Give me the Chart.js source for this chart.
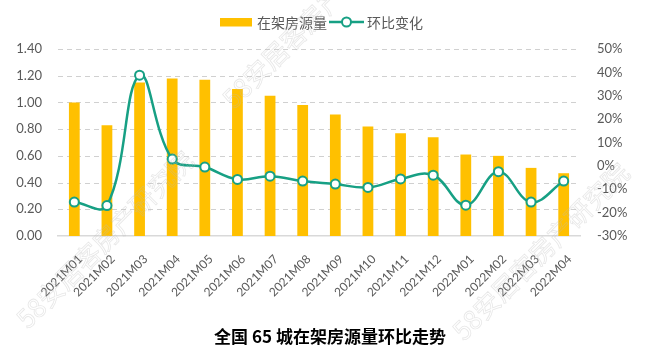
<!DOCTYPE html>
<html>
<head>
<meta charset="utf-8">
<script src="https://cdn.jsdelivr.net/npm/chart.js@4.4.1/dist/chart.umd.min.js"></script>
<style>
  html, body { margin: 0; padding: 0; background: #ffffff; }
  #wrap { width: 660px; height: 361px; position: relative; }
</style>
</head>
<body>
<div id="wrap"><canvas id="c" width="660" height="361"></canvas></div>
<script>
const categories = ['2021M01','2021M02','2021M03','2021M04','2021M05','2021M06','2021M07','2021M08','2021M09','2021M10','2021M11','2021M12','2022M01','2022M02','2022M03','2022M04'];
const listingVolume = [1.00, 0.83, 1.15, 1.18, 1.17, 1.10, 1.05, 0.98, 0.91, 0.82, 0.77, 0.74, 0.61, 0.60, 0.51, 0.47];
const momChange = [-15.5, -17.0, 38.8, 2.9, -0.5, -5.8, -4.4, -6.5, -7.8, -9.2, -5.6, -4.0, -16.8, -2.5, -15.5, -6.5];
const leftTicks = [0, 0.2, 0.4, 0.6, 0.8, 1.0, 1.2, 1.4];
const rightTicks = [-30, -20, -10, 0, 10, 20, 30, 40, 50];
const barLabel = '在架房源量';
const lineLabel = '环比变化';
const titleText = '全国 65 城在架房源量环比走势';
const watermark = '58安居客房产研究院';

const BAR = '#FFC000';
const TEAL = '#17A084';
const GRAY = '#595959';

const dashedGridPlugin = {
  id: 'dashedGrid',
  beforeDatasetsDraw(chart) {
    const ctx = chart.ctx;
    const ys = chart.scales.y;
    const area = chart.chartArea;
    ctx.save();
    ctx.strokeStyle = '#d0d0d0';
    ctx.lineWidth = 1;
    ctx.setLineDash([5, 4]);
    for (const v of leftTicks) {
      if (v === 0) continue;
      const py = Math.round(ys.getPixelForValue(v)) + 0.5;
      ctx.beginPath();
      ctx.moveTo(area.left, py);
      ctx.lineTo(area.right, py);
      ctx.stroke();
    }
    ctx.restore();
  }
};

const legendPlugin = {
  id: 'customLegend',
  afterDraw(chart) {
    const ctx = chart.ctx;
    ctx.save();
    ctx.font = '14px "Noto Sans CJK SC"';
    const w1 = ctx.measureText(barLabel).width;
    let x = 220;
    const y = 22;
    ctx.fillStyle = BAR;
    ctx.fillRect(x, y - 4, 32, 8.5);
    x += 37;
    ctx.fillStyle = GRAY;
    ctx.textBaseline = 'middle';
    ctx.fillText(barLabel, x, y + 1);
    x += w1 + 2;
    ctx.strokeStyle = TEAL;
    ctx.lineWidth = 2.5;
    ctx.beginPath();
    ctx.moveTo(x, y); ctx.lineTo(x + 35, y); ctx.stroke();
    ctx.beginPath();
    ctx.arc(x + 17.5, y, 4.5, 0, Math.PI * 2);
    ctx.fillStyle = '#fff'; ctx.fill();
    ctx.lineWidth = 2; ctx.stroke();
    x += 38;
    ctx.fillStyle = GRAY;
    ctx.fillText(lineLabel, x, y + 1);
    ctx.restore();
  }
};

const watermarkPlugin = {
  id: 'watermark',
  afterDraw(chart) {
    const ctx = chart.ctx;
    ctx.save();
    ctx.font = '26px "Noto Sans CJK SC"';
    ctx.strokeStyle = 'rgba(185,185,185,0.35)';
    ctx.lineWidth = 0.8;
    ctx.textBaseline = 'alphabetic';
    const spots = [[28, 330], [234, 110], [464, 342]];
    for (const [sx, sy] of spots) {
      ctx.save();
      ctx.translate(sx, sy);
      ctx.rotate(-Math.PI / 4);
      ctx.strokeText(watermark, 0, 0);
      ctx.restore();
    }
    ctx.restore();
  }
};

new Chart(document.getElementById('c'), {
  data: {
    labels: categories,
    datasets: [
      {
        type: 'line',
        label: lineLabel,
        data: momChange,
        yAxisID: 'y1',
        borderColor: TEAL,
        borderWidth: 2.5,
        tension: 0.4,
        pointRadius: 4.5,
        pointBorderWidth: 2,
        pointBackgroundColor: '#ffffff',
        pointBorderColor: TEAL,
        order: 0,
        clip: false
      },
      {
        type: 'bar',
        label: barLabel,
        data: listingVolume,
        yAxisID: 'y',
        backgroundColor: BAR,
        barPercentage: 0.33,
        categoryPercentage: 1.0,
        order: 1
      }
    ]
  },
  options: {
    responsive: false,
    animation: false,
    layout: { padding: { top: 49, left: 0, right: 0, bottom: 0 } },
    plugins: {
      legend: { display: false },
      tooltip: { enabled: false },
      title: {
        display: true,
        position: 'bottom',
        text: titleText,
        color: '#000000',
        font: { family: '"Noto Sans CJK SC"', size: 17, weight: 'bold' },
        padding: { top: 0, bottom: 14 }
      }
    },
    scales: {
      x: {
        grid: { display: false },
        border: { display: true, color: '#d9d9d9', width: 1.5 },
        ticks: {
          color: GRAY,
          font: { family: 'Lato', size: 12 },
          minRotation: 45, maxRotation: 45,
          autoSkip: false, padding: 8, labelOffset: 6
        },
        afterFit(scale) { scale.height = 90.6; }
      },
      y: {
        position: 'left',
        min: 0, max: 1.4,
        afterBuildTicks(scale) { scale.ticks = leftTicks.map(v => ({ value: v })); },
        grid: { display: false },
        border: { display: false },
        ticks: {
          color: GRAY,
          font: { family: 'Lato', size: 13 },
          padding: 8,
          callback: v => Number(v).toFixed(2)
        },
        afterFit(scale) { scale.width = 58; }
      },
      y1: {
        position: 'right',
        min: -30, max: 50,
        afterBuildTicks(scale) { scale.ticks = rightTicks.map(v => ({ value: v })); },
        grid: { display: false },
        border: { display: false },
        ticks: {
          color: GRAY,
          font: { family: 'Lato', size: 13 },
          padding: 9,
          callback: v => v + '%'
        },
        afterFit(scale) { scale.width = 80; }
      }
    }
  },
  plugins: [dashedGridPlugin, legendPlugin, watermarkPlugin]
});
</script>
</body>
</html>
